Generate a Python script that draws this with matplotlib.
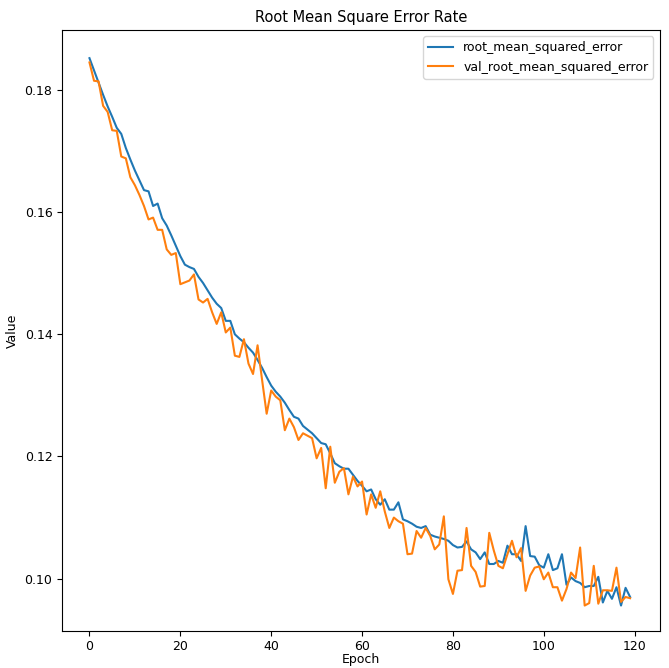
import matplotlib.pyplot as plt
import numpy as np

# training RMSE per epoch
rmse = [
    0.1852, 0.1832, 0.1812, 0.1792, 0.1773, 0.1756, 0.1738, 0.1728, 0.1705, 0.1686,
    0.1668, 0.1652, 0.1636, 0.1634, 0.1610, 0.1614, 0.1590, 0.1578, 0.1562, 0.1545,
    0.1528, 0.1514, 0.1510, 0.1507, 0.1494, 0.1484, 0.1472, 0.1460, 0.1450, 0.1443,
    0.1422, 0.1422, 0.1400, 0.1393, 0.1387, 0.1378, 0.1370, 0.1358, 0.1345, 0.1330,
    0.1316, 0.1306, 0.1298, 0.1288, 0.1276, 0.1265, 0.1262, 0.1250, 0.1244, 0.1238,
    0.1230, 0.1222, 0.1220, 0.1205, 0.1189, 0.1184, 0.1180, 0.1180, 0.1170, 0.1160,
    0.1152, 0.1143, 0.1146, 0.1130, 0.1121, 0.1130, 0.1113, 0.1113, 0.1125, 0.1097,
    0.1094, 0.1090, 0.1085, 0.1083, 0.1086, 0.1072, 0.1069, 0.1067, 0.1065, 0.1062,
    0.1055, 0.1051, 0.1052, 0.1061, 0.1048, 0.1043, 0.1032, 0.1043, 0.1024, 0.1024,
    0.1029, 0.1026, 0.1054, 0.1040, 0.1040, 0.1029, 0.1086, 0.1037, 0.1036, 0.1022,
    0.1018, 0.1040, 0.1014, 0.1017, 0.1040, 0.0990, 0.1002, 0.0996, 0.0993, 0.0986,
    0.0988, 0.0988, 0.1003, 0.0961, 0.0980, 0.0967, 0.0986, 0.0956, 0.0985, 0.0970,
]

# validation RMSE per epoch
val_rmse = [
    0.1845, 0.1815, 0.1814, 0.1774, 0.1764, 0.1734, 0.1733, 0.1691, 0.1688, 0.1657,
    0.1644, 0.1628, 0.1610, 0.1588, 0.1591, 0.1571, 0.1571, 0.1539, 0.1530, 0.1533,
    0.1482, 0.1485, 0.1488, 0.1498, 0.1457, 0.1452, 0.1458, 0.1436, 0.1417, 0.1436,
    0.1403, 0.1411, 0.1365, 0.1363, 0.1392, 0.1352, 0.1335, 0.1382, 0.1325, 0.1270,
    0.1308, 0.1298, 0.1292, 0.1243, 0.1262, 0.1248, 0.1227, 0.1238, 0.1234, 0.1230,
    0.1197, 0.1214, 0.1148, 0.1216, 0.1157, 0.1175, 0.1181, 0.1138, 0.1167, 0.1151,
    0.1159, 0.1105, 0.1138, 0.1116, 0.1143, 0.1110, 0.1083, 0.1100, 0.1094, 0.1090,
    0.1040, 0.1041, 0.1078, 0.1067, 0.1083, 0.1070, 0.1048, 0.1056, 0.1102, 0.0999,
    0.0975, 0.1013, 0.1014, 0.1083, 0.1021, 0.1011, 0.0987, 0.0988, 0.1075, 0.1046,
    0.1021, 0.1017, 0.1040, 0.1062, 0.1035, 0.1050, 0.0980, 0.1005, 0.1018, 0.1020,
    0.0999, 0.1010, 0.0986, 0.0986, 0.0964, 0.0983, 0.1010, 0.1001, 0.1051, 0.0956,
    0.0960, 0.1021, 0.0959, 0.0981, 0.0981, 0.0980, 0.1018, 0.0962, 0.0970, 0.0968,
]

epochs = np.arange(len(rmse))

fig = plt.figure(figsize=(6.69, 6.68), dpi=100)
ax = fig.add_axes([0.093, 0.056, 0.893, 0.899])
ax.plot(epochs, rmse, label="root_mean_squared_error")
ax.plot(epochs, val_rmse, label="val_root_mean_squared_error")
ax.set_title("Root Mean Square Error Rate", fontsize=10.5)
ax.set_xlabel("Epoch", fontsize=9, labelpad=0)
ax.set_ylabel("Value", fontsize=9)
ax.set_xticks([0, 20, 40, 60, 80, 100, 120])
ax.set_yticks([0.10, 0.12, 0.14, 0.16, 0.18])
ax.tick_params(labelsize=9)
ax.set_ylim(0.0915, 0.1898)
ax.set_xlim(-6, 125.5)
ax.legend(loc="upper right", fontsize=9)
fig.savefig("out.png", dpi=100)
